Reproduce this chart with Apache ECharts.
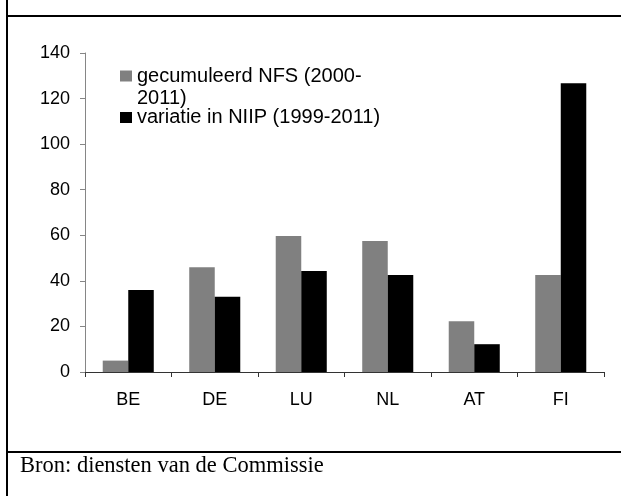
<!DOCTYPE html>
<html>
<head>
<meta charset="utf-8">
<script src="https://cdn.jsdelivr.net/npm/echarts@6/dist/echarts.min.js"></script>
<style>
  html, body { margin: 0; padding: 0; background: #fff; }
  #chart { width: 621px; height: 496px; }
</style>
</head>
<body>
<div id="chart"></div>
<script>
// landen en waarden
var landen = ['BE', 'DE', 'LU', 'NL', 'AT', 'FI'];
var nfsWaarden = [5, 46, 59.7, 57.5, 22.3, 42.6];
var niipWaarden = [36, 33, 44.3, 42.6, 12.2, 126.7];
var nfsNaam = 'gecumuleerd NFS (2000-\n2011)';
var niipNaam = 'variatie in NIIP (1999-2011)';
var bronTekst = 'Bron: diensten van de Commissie';

var chart = echarts.init(document.getElementById('chart'));

var option = {
  animation: false,
  backgroundColor: '#fff',
  textStyle: { fontFamily: 'Liberation Sans, Arial, sans-serif' },
  grid: { left: 85, right: 17, top: 53, bottom: 124 },
  legend: [
    {
      data: [nfsNaam],
      left: 120,
      top: 43,
      padding: 0,
      itemWidth: 12,
      itemHeight: 11,
      icon: 'rect',
      // lege eerste regel zodat het blokje bij de eerste tekstregel staat
      formatter: function (naam) { return '\n' + naam; },
      textStyle: { fontSize: 20, color: '#000', lineHeight: 22 }
    },
    {
      data: [niipNaam],
      left: 120,
      top: 106.5,
      padding: 0,
      itemWidth: 12,
      itemHeight: 11,
      icon: 'rect',
      textStyle: { fontSize: 20, color: '#000', lineHeight: 22 }
    }
  ],
  xAxis: {
    type: 'category',
    data: landen,
    axisLine: { lineStyle: { color: '#333', width: 1 } },
    axisTick: { show: true, length: 5, lineStyle: { color: '#333' } },
    axisLabel: { fontSize: 18, color: '#000', margin: 19 }
  },
  yAxis: {
    type: 'value',
    min: 0,
    max: 140,
    interval: 20,
    axisLine: { show: true, lineStyle: { color: '#868686' } },
    axisTick: { show: true, length: 5, lineStyle: { color: '#868686' } },
    axisLabel: { fontSize: 18, color: '#000', margin: 15 },
    splitLine: { show: false }
  },
  series: [
    {
      name: nfsNaam,
      type: 'bar',
      data: nfsWaarden,
      itemStyle: { color: '#808080' },
      barGap: '0%',
      barCategoryGap: '41%'
    },
    {
      name: niipNaam,
      type: 'bar',
      data: niipWaarden,
      itemStyle: { color: '#000' },
      barGap: '0%',
      barCategoryGap: '41%'
    }
  ],
  graphic: [
    { type: 'line', shape: { x1: 7, y1: 0, x2: 7, y2: 496 }, style: { stroke: '#000', lineWidth: 2 } },
    { type: 'line', shape: { x1: 7, y1: 16, x2: 621, y2: 16 }, style: { stroke: '#000', lineWidth: 2 } },
    { type: 'line', shape: { x1: 7, y1: 452, x2: 621, y2: 452 }, style: { stroke: '#000', lineWidth: 2 } },
    {
      type: 'text',
      left: 20,
      top: 455,
      style: {
        text: bronTekst,
        font: '22.5px "Liberation Serif", "Times New Roman", serif',
        fill: '#000'
      }
    }
  ]
};

chart.setOption(option);
</script>
</body>
</html>
